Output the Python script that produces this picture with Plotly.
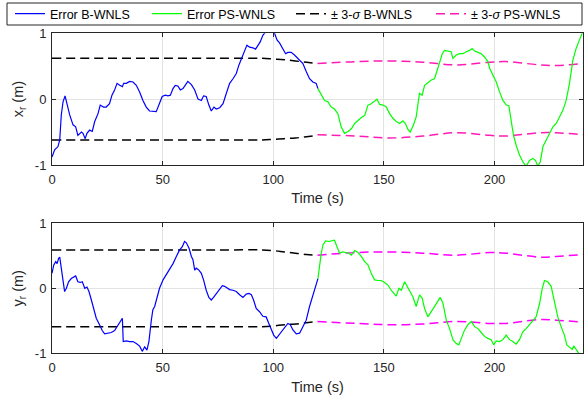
import plotly.graph_objects as go

# ---------------- data ----------------
# x_r : B-WNLS error (0-120 s)
xr_b_t = [0, 1.2, 2.7, 3.5, 4.2, 5.0, 5.9, 6.9, 8.0, 9.5,
          10.7, 11.7, 13.3, 14.0, 15.0, 15.8, 17.0, 18.2, 19.3, 20.8,
          21.8, 23.3, 24.5, 26.0, 27.1, 28.3, 29.4, 30.6, 31.8, 32.4,
          33.6, 35.1, 36.6, 38.1, 39.6, 41.1, 42.6, 44.1, 45.6, 47.1,
          48.3, 49.8, 51.2, 52.4, 53.5, 54.7, 55.7, 56.9, 58.0, 59.2,
          60.4, 61.4, 63.0, 64.5, 66.0, 67.5, 68.5, 69.7, 70.9, 72.0,
          73.2, 74.2, 75.8, 77.3, 78.8, 80.3, 81.8, 83.3, 84.5, 86.0,
          87.1, 88.1, 89.3, 90.8, 92.0, 93.1, 94.1, 95.3, 96.4, 97.5,
          98.5, 99.5, 100.6, 101.7, 102.9, 104.4, 105.6, 106.6, 108.1, 109.6,
          111.1, 113.4, 114.9, 116.4, 117.9, 119.4, 120.2]
xr_b_v = [-0.88, -0.77, -0.72, -0.62, -0.24, -0.04, 0.05, -0.09, -0.24, -0.39,
          -0.42, -0.55, -0.50, -0.52, -0.60, -0.52, -0.47, -0.49, -0.34, -0.22,
          -0.09, -0.12, -0.12, -0.07, 0.06, 0.14, 0.24, 0.21, 0.19, 0.24,
          0.24, 0.27, 0.26, 0.21, 0.11, -0.02, -0.12, -0.18, -0.18, -0.19,
          -0.09, 0.04, 0.06, 0.05, 0.06, 0.16, 0.21, 0.20, 0.14, 0.16,
          0.22, 0.27, 0.22, 0.14, 0.00, -0.02, 0.05, 0.04, -0.09, -0.18,
          -0.12, -0.15, -0.13, -0.07, 0.09, 0.24, 0.31, 0.39, 0.52, 0.64,
          0.74, 0.82, 0.79, 0.78, 0.76, 0.82, 0.87, 0.97, 1.02, 1.06,
          1.08, 1.05, 1.00, 0.90, 0.85, 0.77, 0.69, 0.71, 0.71, 0.67,
          0.62, 0.54, 0.42, 0.31, 0.26, 0.24, 0.16]

# x_r : PS-WNLS error (120-240 s)
xr_p_t = [120.2, 121.7, 123.2, 124.7, 126.2, 127.7, 129.2, 130.7, 132.2, 133.8,
          135.3, 136.8, 138.3, 139.8, 141.3, 142.8, 144.3, 145.8, 146.9, 148.1,
          149.6, 151.1, 152.6, 154.1, 155.6, 157.1, 158.6, 159.7, 160.9, 161.9,
          163.4, 164.6, 165.4, 166.1, 167.3, 168.4, 169.9, 171.4, 172.9, 173.9,
          175.2, 176.4, 177.4, 178.9, 180.4, 181.2, 182.7, 184.2, 185.7, 187.2,
          188.7, 189.9, 191.0, 192.5, 194.0, 195.5, 197.0, 197.8, 199.3, 200.8,
          202.3, 203.8, 205.3, 206.5, 207.6, 208.6, 209.8, 211.3, 212.8, 214.3,
          215.8, 217.3, 218.5, 219.6, 220.7, 221.9, 223.4, 224.9, 226.4, 227.9,
          229.4, 230.9, 232.4, 233.9, 235.4, 236.9, 238.4, 239.6, 240.0]
xr_p_v = [0.16, 0.06, -0.02, -0.04, -0.12, -0.15, -0.22, -0.42, -0.52, -0.49,
          -0.45, -0.37, -0.32, -0.28, -0.25, -0.09, -0.07, -0.03, 0.00, -0.08,
          -0.09, -0.12, -0.22, -0.29, -0.34, -0.37, -0.33, -0.37, -0.46, -0.50,
          -0.39, -0.27, -0.04, 0.09, 0.06, 0.21, 0.25, 0.29, 0.31, 0.42,
          0.54, 0.69, 0.74, 0.73, 0.72, 0.62, 0.67, 0.69, 0.69, 0.72,
          0.74, 0.77, 0.73, 0.71, 0.69, 0.64, 0.57, 0.47, 0.36, 0.26,
          0.11, -0.02, -0.09, -0.10, -0.34, -0.55, -0.70, -0.85, -0.95, -1.02,
          -0.93, -0.90, -0.93, -1.02, -0.95, -0.72, -0.62, -0.52, -0.42, -0.37,
          -0.27, -0.17, -0.02, 0.24, 0.59, 0.77, 0.90, 1.00, 1.03]

# y_r : B-WNLS error
yr_b_t = [0, 0.8, 1.7, 2.3, 3.0, 3.5, 4.2, 5.0, 5.7, 6.5,
          7.5, 8.7, 9.8, 10.7, 11.7, 12.8, 13.7, 14.8, 15.8, 16.7,
          17.8, 18.8, 20.0, 21.5, 22.7, 23.8, 25.3, 26.8, 28.3, 29.4,
          30.6, 31.8, 32.2, 33.6, 35.1, 36.6, 38.1, 39.6, 40.8, 41.9,
          42.9, 43.8, 44.9, 45.6, 46.4, 47.4, 48.6, 50.2, 51.7, 53.2,
          54.7, 56.2, 57.7, 58.9, 59.9, 60.7, 61.9, 63.0, 63.7, 64.5,
          65.2, 66.4, 67.5, 68.5, 69.7, 70.9, 72.0, 73.0, 74.2, 75.8,
          77.0, 78.0, 79.1, 80.3, 81.8, 83.3, 84.8, 86.3, 87.8, 89.0,
          90.1, 91.1, 92.3, 93.8, 95.3, 96.8, 98.0, 99.1, 100.2, 101.4,
          102.6, 104.1, 105.6, 106.6, 107.7, 108.9, 110.4, 111.9, 113.4, 114.9,
          116.4, 117.9, 119.4, 120.2]
yr_b_v = [0.23, 0.36, 0.41, 0.38, 0.46, 0.48, 0.31, 0.10, -0.05, 0.00,
          0.10, 0.15, 0.18, 0.19, 0.10, 0.09, 0.10, 0.00, 0.02, -0.05,
          -0.18, -0.33, -0.46, -0.56, -0.65, -0.70, -0.69, -0.68, -0.65, -0.59,
          -0.53, -0.46, -0.82, -0.81, -0.82, -0.82, -0.85, -0.89, -0.97, -0.90,
          -0.95, -0.82, -0.49, -0.33, -0.28, -0.13, 0.00, 0.13, 0.21, 0.28,
          0.38, 0.49, 0.59, 0.64, 0.72, 0.70, 0.62, 0.49, 0.44, 0.28,
          0.31, 0.28, 0.23, 0.13, -0.03, -0.14, -0.18, -0.14, -0.08, 0.00,
          0.04, 0.03, 0.00, -0.02, -0.03, -0.05, -0.10, -0.14, -0.09, -0.08,
          -0.10, -0.18, -0.31, -0.36, -0.43, -0.44, -0.54, -0.62, -0.72, -0.77,
          -0.72, -0.64, -0.59, -0.54, -0.56, -0.64, -0.70, -0.69, -0.59, -0.49,
          -0.28, -0.10, 0.08, 0.15]

# y_r : PS-WNLS error
yr_p_t = [120.2, 121.0, 121.7, 122.5, 123.7, 125.2, 126.2, 127.7, 128.8, 130.0,
          131.2, 132.7, 134.2, 135.3, 136.8, 138.3, 139.8, 141.3, 142.8, 144.3,
          145.8, 147.3, 148.8, 150.3, 151.8, 153.3, 154.8, 155.6, 156.8, 157.9,
          159.4, 160.4, 161.6, 163.1, 164.6, 166.1, 167.3, 168.4, 169.9, 171.4,
          172.9, 174.4, 175.5, 176.7, 178.2, 179.7, 181.2, 182.7, 183.9, 185.0,
          186.5, 188.0, 189.5, 191.0, 192.5, 194.0, 195.5, 197.0, 198.5, 199.6,
          200.8, 202.3, 203.8, 205.3, 206.8, 208.3, 209.8, 211.3, 212.8, 214.3,
          215.8, 217.3, 218.8, 220.4, 221.6, 222.6, 224.1, 225.6, 227.1, 228.6,
          230.1, 231.6, 232.7, 233.9, 235.1, 235.9, 236.9, 238.1, 239.0, 240.0]
yr_p_v = [0.15, 0.38, 0.54, 0.67, 0.73, 0.72, 0.73, 0.74, 0.64, 0.54,
          0.56, 0.55, 0.54, 0.51, 0.58, 0.55, 0.49, 0.41, 0.36, 0.23,
          0.13, 0.12, 0.12, 0.09, 0.05, -0.03, -0.10, -0.12, 0.00, -0.03,
          0.10, 0.04, -0.05, -0.13, -0.28, -0.10, -0.15, -0.31, -0.44, -0.36,
          -0.28, -0.18, -0.14, -0.23, -0.49, -0.62, -0.79, -0.85, -0.87, -0.77,
          -0.64, -0.56, -0.51, -0.59, -0.62, -0.68, -0.74, -0.77, -0.79, -0.87,
          -0.81, -0.82, -0.79, -0.72, -0.79, -0.82, -0.86, -0.79, -0.67, -0.62,
          -0.56, -0.51, -0.44, -0.23, 0.00, 0.12, 0.10, 0.03, -0.21, -0.44,
          -0.59, -0.72, -0.87, -0.91, -0.94, -0.89, -0.95, -1.00, -1.03, -1.04]

# 3-sigma bounds
sig_b_t = [0, 25, 50, 75, 95, 100, 105, 110, 115, 120]
xr_sig_b_up = [0.62, 0.62, 0.62, 0.62, 0.62, 0.61, 0.60, 0.58, 0.56, 0.54]
xr_sig_b_lo = [-0.62, -0.62, -0.62, -0.62, -0.62, -0.61, -0.60, -0.59, -0.57, -0.55]
yr_sig_b_up = [0.59, 0.59, 0.59, 0.59, 0.59, 0.58, 0.56, 0.54, 0.52, 0.51]
yr_sig_b_lo = [-0.59, -0.59, -0.59, -0.59, -0.59, -0.58, -0.56, -0.55, -0.53, -0.51]

sig_p_t = [120, 137.5, 152.6, 167.6, 182.7, 197.8, 205.3, 220.4, 227.9, 240]
xr_sig_p_up = [0.54, 0.57, 0.58, 0.56, 0.52, 0.56, 0.57, 0.52, 0.51, 0.54]
xr_sig_p_lo = [-0.54, -0.56, -0.59, -0.56, -0.51, -0.55, -0.56, -0.51, -0.51, -0.54]
yr_sig_p_up = [0.51, 0.55, 0.56, 0.54, 0.51, 0.55, 0.54, 0.48, 0.49, 0.52]
yr_sig_p_lo = [-0.51, -0.54, -0.56, -0.55, -0.51, -0.54, -0.54, -0.48, -0.49, -0.52]

x_tick_vals = [0, 50, 100, 150, 200]
y_tick_vals = [-1, 0, 1]
y_tick_text = ["-1", "0", "1"]

names = ["Error B-WNLS", "Error PS-WNLS",
         "\u00b1 3-<i>\u03c3</i> B-WNLS", "\u00b1 3-<i>\u03c3</i> PS-WNLS"]

# ---------------- figure ----------------
W, H = 586, 404
ML, MR = 52, 3
BLUE, GREEN, BLACK = "#0000ff", "#00ff00", "#000000"
PINK_TOP, PINK_BOT = "#ff1cb4", "#ff00ff"
DASH = "9px,5px"
FONT = "Liberation Sans, Arial, Helvetica, sans-serif"
TXT = "#262626"
TICK_SIZE = 13
TITLE_SIZE = 14.5
LEG_SIZE = 12.5

fig = go.Figure()

def add_panel(xa, ya, bt, bv, pt, pv, bup, blo, pup, plo, pink, show):
    fig.add_trace(go.Scatter(x=sig_b_t, y=bup, mode="lines", xaxis=xa, yaxis=ya,
                             line=dict(color=BLACK, width=1.5, dash=DASH, shape="spline"),
                             name=names[2], showlegend=show, legend="legend3"))
    fig.add_trace(go.Scatter(x=sig_b_t, y=blo, mode="lines", xaxis=xa, yaxis=ya,
                             line=dict(color=BLACK, width=1.5, dash=DASH, shape="spline"),
                             showlegend=False))
    fig.add_trace(go.Scatter(x=sig_p_t, y=pup, mode="lines", xaxis=xa, yaxis=ya,
                             line=dict(color=pink, width=1.5, dash=DASH, shape="spline"),
                             name=names[3], showlegend=show, legend="legend4"))
    fig.add_trace(go.Scatter(x=sig_p_t, y=plo, mode="lines", xaxis=xa, yaxis=ya,
                             line=dict(color=pink, width=1.5, dash=DASH, shape="spline"),
                             showlegend=False))
    fig.add_trace(go.Scatter(x=bt, y=bv, mode="lines", xaxis=xa, yaxis=ya,
                             line=dict(color=BLUE, width=1.2),
                             name=names[0], showlegend=show, legend="legend"))
    fig.add_trace(go.Scatter(x=pt, y=pv, mode="lines", xaxis=xa, yaxis=ya,
                             line=dict(color=GREEN, width=1.2),
                             name=names[1], showlegend=show, legend="legend2"))

add_panel("x", "y", xr_b_t, xr_b_v, xr_p_t, xr_p_v,
          xr_sig_b_up, xr_sig_b_lo, xr_sig_p_up, xr_sig_p_lo, PINK_TOP, True)
add_panel("x2", "y2", yr_b_t, yr_b_v, yr_p_t, yr_p_v,
          yr_sig_b_up, yr_sig_b_lo, yr_sig_p_up, yr_sig_p_lo, PINK_BOT, False)

def xaxis(anchor):
    return dict(range=[0, 240], tickvals=x_tick_vals, anchor=anchor,
                showline=True, linecolor=TXT, linewidth=1, mirror="ticks",
                ticks="inside", ticklen=4, tickcolor=TXT, ticklabelstandoff=2,
                showgrid=True, gridcolor="#e3e3e3", gridwidth=1, zeroline=False,
                tickfont=dict(size=TICK_SIZE, color=TXT, family=FONT),
                title=dict(text="Time (s)", font=dict(size=TITLE_SIZE, color=TXT, family=FONT), standoff=7),
                automargin=False)

def yaxis(anchor, dom, title):
    return dict(range=[-1, 1], tickvals=y_tick_vals, ticktext=y_tick_text, anchor=anchor,
                domain=dom, showline=True, linecolor=TXT, linewidth=1, mirror="ticks",
                ticks="inside", ticklen=4, tickcolor=TXT, ticklabelstandoff=2,
                showgrid=True, gridcolor="#e3e3e3", gridwidth=1, zeroline=False,
                tickfont=dict(size=TICK_SIZE, color=TXT, family=FONT),
                title=dict(text=title, font=dict(size=TITLE_SIZE, color=TXT, family=FONT), standoff=7),
                automargin=False)

top_dom = [1 - 165.0 / H, 1 - 33.3 / H]
bot_dom = [1 - 353.3 / H, 1 - 223.3 / H]

def px_x(px):
    return (px - ML) / (W - ML - MR)

def px_y(py):
    return 1 - py / H

def leg(px):
    return dict(orientation="h", xref="container", yref="container",
                x=px / W, xanchor="left", y=1 - 14 / H, yanchor="middle",
                bgcolor="rgba(0,0,0,0)", borderwidth=0,
                font=dict(size=LEG_SIZE, color="#000000", family=FONT))

fig.update_layout(
    width=W, height=H,
    margin=dict(l=ML, r=MR, t=0, b=0, autoexpand=False),
    paper_bgcolor="white", plot_bgcolor="white",
    font=dict(family=FONT, color=TXT),
    xaxis=xaxis("y"),
    yaxis=yaxis("x", top_dom, "x<sub>r</sub> (m)"),
    xaxis2=xaxis("y2"),
    yaxis2=yaxis("x2", bot_dom, "y<sub>r</sub> (m)"),
    showlegend=True,
    legend=leg(10),
    legend2=leg(147),
    legend3=leg(291),
    legend4=leg(431),
    shapes=[dict(type="rect", xref="paper", yref="paper",
                 x0=px_x(7), x1=px_x(582), y0=px_y(25), y1=px_y(3),
                 line=dict(color=TXT, width=1), fillcolor="rgba(0,0,0,0)", layer="below")],
)

fig.write_html("out.html")
